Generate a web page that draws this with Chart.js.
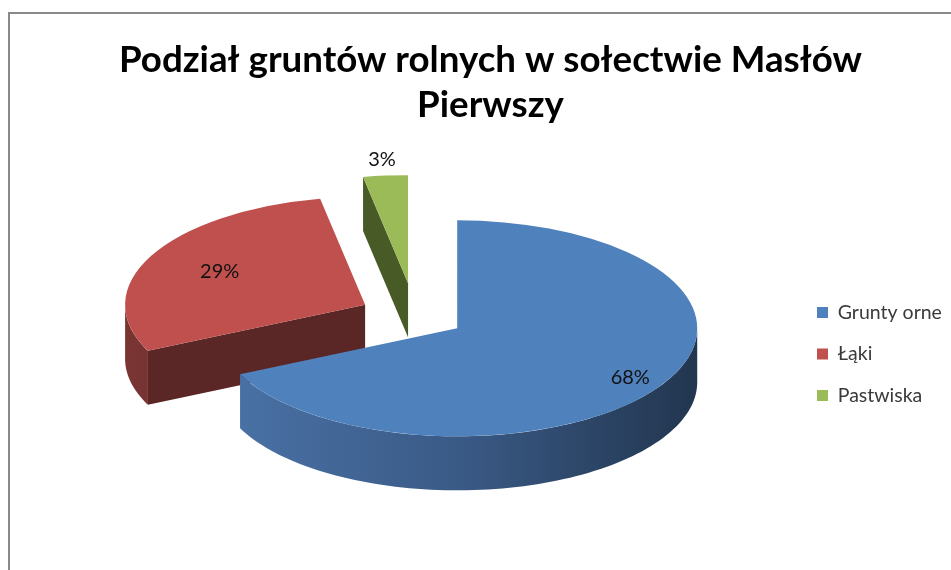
<!DOCTYPE html>
<html><head><meta charset="utf-8">
<script src="https://cdn.jsdelivr.net/npm/chart.js@4/dist/chart.umd.min.js"></script>
<style>html,body{margin:0;padding:0;background:#fff;overflow:hidden}</style>
</head><body>
<canvas id="c" width="951" height="570"></canvas>
<script>
// ---- data ----
const categories = ['Grunty orne', 'Łąki', 'Pastwiska'];
const shares = [68, 29, 3];
const titleLines = ['Podział gruntów rolnych w sołectwie Masłów', 'Pierwszy'];

// ---- style ----
const topColors = ['#4F81BD', '#C0504D', '#9BBB59'];
const faceColors = ['#2B4A74', '#5A2726', '#485B27'];
const sideGrad = [['#4A73A7', '#3A5A86', '#22364F'], ['#7A3533', '#5A2726', '#4A1F1E'], ['#5F7832', '#485B27', '#3A4A1E']];
const TILT = 0.45, DEPTH = 54;
const explode = [50, 56, 74];
const labelFrac = [0.854, 0.68, 1.15];

const pie3d = {
  id: 'pie3d',
  beforeDraw(chart) {
    const ctx = chart.ctx;
    ctx.save();
    ctx.fillStyle = '#fff';
    ctx.fillRect(0, 0, chart.width, chart.height);
    ctx.strokeStyle = '#898989';
    ctx.lineWidth = 2;
    ctx.strokeRect(9, 13, chart.width + 20, chart.height + 20);
    ctx.restore();
  },
  beforeDatasetsDraw(chart) {
    const ctx = chart.ctx;
    const meta = chart.getDatasetMeta(0);
    const data = chart.data.datasets[0].data;
    const total = data.reduce((p, v) => p + v, 0);
    const arcs = meta.data.map((a, i) => ({a, i}));
    const cy = arcs[0].a.y;
    const P = (x, y) => [x, cy + (y - cy) * TILT];
    // back to front
    arcs.sort((p, q) => Math.sin((p.a.startAngle + p.a.endAngle) / 2) - Math.sin((q.a.startAngle + q.a.endAngle) / 2));
    for (const {a, i} of arcs) {
      const s = a.startAngle, e = a.endAngle, R = a.outerRadius;
      const mid = (s + e) / 2, ex = explode[i] * Math.cos(mid), ey = explode[i] * Math.sin(mid);
      const ox = a.x + ex, oy = a.y + ey;
      ctx.save();
      const face = (ang) => {
        const c = P(ox, oy), r = P(ox + R * Math.cos(ang), oy + R * Math.sin(ang));
        ctx.beginPath();
        ctx.moveTo(c[0], c[1]); ctx.lineTo(r[0], r[1]);
        ctx.lineTo(r[0], r[1] + DEPTH); ctx.lineTo(c[0], c[1] + DEPTH);
        ctx.closePath();
        ctx.fillStyle = faceColors[i];
        ctx.fill();
      };
      if (Math.cos(s) < -1e-6) face(s);
      if (Math.cos(e) > 1e-6) face(e);
      for (const base of [0, 2 * Math.PI]) {
        const lo = Math.max(s, base), hi = Math.min(e, base + Math.PI);
        if (hi <= lo) continue;
        const n = 90, top = [];
        for (let k = 0; k <= n; k++) {
          const t = lo + (hi - lo) * k / n;
          top.push(P(ox + R * Math.cos(t), oy + R * Math.sin(t)));
        }
        ctx.beginPath();
        top.forEach((p, k) => k ? ctx.lineTo(p[0], p[1]) : ctx.moveTo(p[0], p[1]));
        for (let k = n; k >= 0; k--) ctx.lineTo(top[k][0], top[k][1] + DEPTH);
        ctx.closePath();
        const g = ctx.createLinearGradient(ox - R, 0, ox + R, 0);
        g.addColorStop(0, sideGrad[i][0]);
        g.addColorStop(0.5, sideGrad[i][1]);
        g.addColorStop(1, sideGrad[i][2]);
        ctx.fillStyle = g;
        ctx.fill();
      }
      ctx.restore();
      // top face drawn by the library's arc element
      ctx.save();
      ctx.translate(0, cy);
      ctx.scale(1, TILT);
      ctx.translate(ex, ey - cy);
      a.draw(ctx);
      ctx.restore();
    }
    // labels
    ctx.save();
    ctx.font = '20px Lato';
    ctx.fillStyle = '#111';
    ctx.textAlign = 'center';
    ctx.textBaseline = 'middle';
    meta.data.forEach((a, i) => {
      const mid = (a.startAngle + a.endAngle) / 2;
      const d = explode[i] + labelFrac[i] * a.outerRadius;
      const x = a.x + d * Math.cos(mid);
      const y = a.y + d * Math.sin(mid) * TILT;
      ctx.fillText(Math.round(data[i] / total * 100) + '%', x, y);
    });
    ctx.restore();
    return false;
  }
};

new Chart(document.getElementById('c'), {
  type: 'pie',
  data: {
    labels: categories,
    datasets: [{
      data: shares,
      backgroundColor: topColors,
      borderWidth: 0,
      hoverOffset: 0,
      clip: false
    }]
  },
  options: {
    responsive: false,
    animation: false,
    events: [],
    radius: 240,
    layout: { padding: { left: 35, right: 5, top: 0, bottom: 75.2 } },
    plugins: {
      tooltip: { enabled: false },
      title: {
        display: true,
        text: titleLines,
        color: '#000',
        font: { family: 'Lato', size: 36.7, weight: 'bold', lineHeight: 1.23 },
        padding: { top: 37.5, bottom: 10 }
      },
      legend: {
        position: 'right',
        maxWidth: 151,
        title: { display: true, text: ' ', font: { size: 12, lineHeight: 1.2 }, padding: { top: 0, bottom: 198.8 } },
        labels: {
          boxWidth: 11, boxHeight: 11, padding: 22, color: '#3a3a3a',
          font: { family: 'Lato', size: 19.5 }
        }
      }
    }
  },
  plugins: [pie3d]
});
</script>
</body></html>
